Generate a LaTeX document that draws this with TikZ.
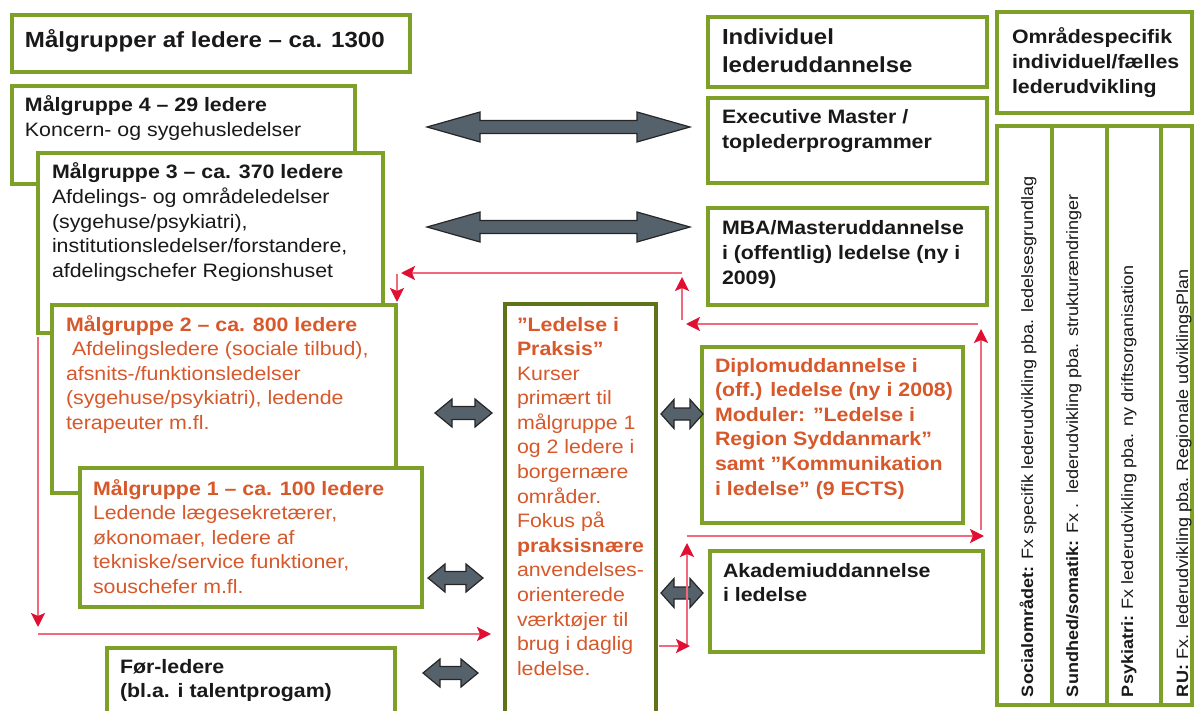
\documentclass[tikz,border=0pt]{standalone}
\usepackage{fontspec}
\setmainfont{Liberation Sans}[FakeStretch=1.1]
\usetikzlibrary{arrows.meta,fit}
\definecolor{grn}{RGB}{125,160,40}
\definecolor{dgrn}{RGB}{95,115,25}
\definecolor{orn}{RGB}{215,88,42}
\definecolor{ink}{RGB}{25,25,25}
\definecolor{pinkln}{RGB}{240,105,125}
\definecolor{redhd}{RGB}{225,15,50}
\definecolor{slate}{RGB}{85,98,108}
\newcommand{\bodyfont}{\fontsize{9.7pt}{12.3pt}\selectfont}
\newcommand{\titlefont}{\fontsize{10.95pt}{14pt}\selectfont\bfseries}
\newcommand{\bigfont}{\fontsize{10.9pt}{14pt}\selectfont\bfseries}
\newcommand{\vfont}{\fontsize{8.2pt}{10pt}\selectfont}
\newcommand{\TBox}[1]{\parbox[t]{300pt}{\raggedright #1}}
\newcommand{\DArr}[6]{%
  \path[darr] (#1,#3) -- ({#1+#4},{#3-#5}) -- ({#1+#4},{#3-#6}) -- ({#2-#4},{#3-#6})
   -- ({#2-#4},{#3-#5}) -- (#2,#3) -- ({#2-#4},{#3+#5}) -- ({#2-#4},{#3+#6})
   -- ({#1+#4},{#3+#6}) -- ({#1+#4},{#3+#5}) -- cycle;}
\tikzset{
  box/.style={draw=grn, line width=2pt, fill=white, inner sep=0pt, outer sep=0pt},
  pbox/.style={draw=dgrn, line width=1.6pt, fill=white, inner sep=0pt, outer sep=0pt},
  txt/.style={anchor=base west, inner sep=0pt, outer sep=0pt, text=ink, font=\bodyfont},
  rtxt/.style={txt, text=orn},
  vtxt/.style={rotate=90, anchor=base west, inner sep=0pt, outer sep=0pt, text=ink, font=\vfont},
  redarr/.style={draw=pinkln, line width=1pt, -{Stealth[length=7pt,width=7pt,inset=1.5pt,color=redhd]}},
  darr/.style={fill=slate, draw=black!85, line width=0.6pt, line join=miter}
}
\begin{document}
\begin{tikzpicture}[x=0.5pt,y=-0.5pt]
\useasboundingbox (0,0) rectangle (1194,711);
\clip (0,0) rectangle (1194,711);
\fill[white] (0,0) rectangle (1194,711);

% ---- left column boxes ----
\node[box, fit={(12,15) (410,72)}] (title) {};
\node[box, fit={(12,86) (355,184)}] (mg4) {};
\node[box, fit={(38,153) (383,333)}] (mg3) {};
\node[box, fit={(52,305) (396,493)}] (mg2) {};
\node[box, fit={(80,468) (422,607)}] (mg1) {};
\node[box, fit={(107,648) (395,730)}] (for) {};
\node[pbox, fit={(505,304) (656,730)}] (prak) {};

% ---- right boxes ----
\node[box, fit={(708,17) (987,87)}] (indiv) {};
\node[box, fit={(708,98) (987,183)}] (exec) {};
\node[box, fit={(708,208) (987,305)}] (mba) {};
\node[box, fit={(702,347) (963,523)}] (dipl) {};
\node[box, fit={(710,551) (983,652)}] (akad) {};
\node[box, fit={(997,12) (1192,113)}] (omr) {};
\node[box, fit={(997,126) (1192,705)}] (cols) {};
\draw[grn, line width=2pt] (1052,126) -- (1052,705);
\draw[grn, line width=2pt] (1107,126) -- (1107,705);
\draw[grn, line width=2pt] (1161,126) -- (1161,705);

% ---- texts ----
\node[txt, font=\titlefont] (titlet) at (25,48) {Målgrupper af ledere – ca. 1300};
\node[txt] (mg4t) at (25,112) {\TBox{\textbf{Målgruppe 4 – 29 ledere}\\Koncern- og sygehusledelser}};
\node[txt] (mg3t) at (52,179) {\TBox{\textbf{Målgruppe 3 – ca. 370 ledere}\\Afdelings- og områdeledelser\\(sygehuse/psykiatri),\\institutionsledelser/forstandere,\\afdelingschefer Regionshuset}};
\node[rtxt] (mg2t) at (66,331) {\TBox{\textbf{Målgruppe 2 – ca. 800 ledere}\\\hspace*{3pt}Afdelingsledere (sociale tilbud),\\afsnits-/funktionsledelser\\(sygehuse/psykiatri), ledende\\terapeuter m.fl.}};
\node[rtxt] (mg1t) at (93,495) {\TBox{\textbf{Målgruppe 1 – ca. 100 ledere}\\Ledende lægesekretærer,\\økonomaer, ledere af\\tekniske/service funktioner,\\souschefer m.fl.}};
\node[txt] (fort) at (120,673) {\TBox{\bfseries Før-ledere\\(bl.a. i talentprogam)}};
\node[rtxt] (prakt) at (517,331) {\TBox{\textbf{”Ledelse i}\\\textbf{Praksis”}\\Kurser\\primært til\\målgruppe 1\\og 2 ledere i\\borgernære\\områder.\\Fokus på\\\textbf{praksisnære}\\anvendelses-\\orienterede\\værktøjer til\\brug i daglig\\ledelse.}};

\node[txt, font=\bigfont] (indivt) at (722,45) {\TBox{Individuel\\lederuddannelse}};
\node[txt] (exect) at (722,124) {\TBox{\bfseries Executive Master /\\toplederprogrammer}};
\node[txt] (mbat) at (722,235) {\TBox{\bfseries MBA/Masteruddannelse\\i (offentlig) ledelse (ny i\\2009)}};
\node[rtxt] (diplt) at (715,372) {\TBox{\bfseries Diplomuddannelse i\\(off.) ledelse (ny i 2008)\\Moduler: ”Ledelse i\\Region Syddanmark”\\samt ”Kommunikation\\i ledelse” (9 ECTS)}};
\node[txt] (akadt) at (723,577) {\TBox{\bfseries Akademiuddannelse\\i ledelse}};
\node[txt] (omrt) at (1012,44) {\TBox{\bfseries Områdespecifik\\individuel/fælles\\lederudvikling}};

\node[vtxt] (c1) at (1033,697) {\textbf{Socialområdet:} Fx specifik lederudvikling pba. ledelsesgrundlag};
\node[vtxt] (c2) at (1078,697) {\textbf{Sundhed/somatik:} Fx .\ \ lederudvikling pba. strukturændringer};
\node[vtxt] (c3) at (1133,697) {\textbf{Psykiatri:} Fx lederudvikling pba. ny driftsorganisation};
\node[vtxt] (c4) at (1188,697) {\textbf{RU:} Fx. lederudvikling pba. Regionale udviklingsPlan};

% ---- grey double arrows ----
\DArr{427}{690}{127}{53}{15}{6.5}
\DArr{427}{690}{227}{53}{15}{6.5}
\DArr{435}{492}{413}{17}{14}{6.5}
\DArr{428}{483}{578}{17}{14}{6.5}
\DArr{423}{478}{673}{17}{14}{6.5}
\DArr{661}{703}{414}{13}{14.5}{6}
\DArr{661}{703}{593}{13}{14.5}{6}

% ---- red arrows ----
\coordinate (a1s) at (682,320); \coordinate (a1e) at (682,277);
\coordinate (a2s) at (682,273); \coordinate (a2e) at (401,273);
\coordinate (a3s) at (397,274); \coordinate (a3e) at (397,302);
\coordinate (a4s) at (978,324); \coordinate (a4e) at (686,324);
\coordinate (a5s) at (981,530); \coordinate (a5e) at (981,329);
\coordinate (a6s) at (687,536); \coordinate (a6e) at (984,536);
\coordinate (a7s) at (687,647); \coordinate (a7e) at (687,543);
\coordinate (a8s) at (659,646); \coordinate (a8e) at (690,646);
\coordinate (a9s) at (38,337); \coordinate (a9e) at (38,627);
\coordinate (a10s) at (38,634); \coordinate (a10e) at (491,634);
\foreach \i in {1,...,10} {\draw[redarr] (a\i s) -- (a\i e);}
\end{tikzpicture}
\end{document}
